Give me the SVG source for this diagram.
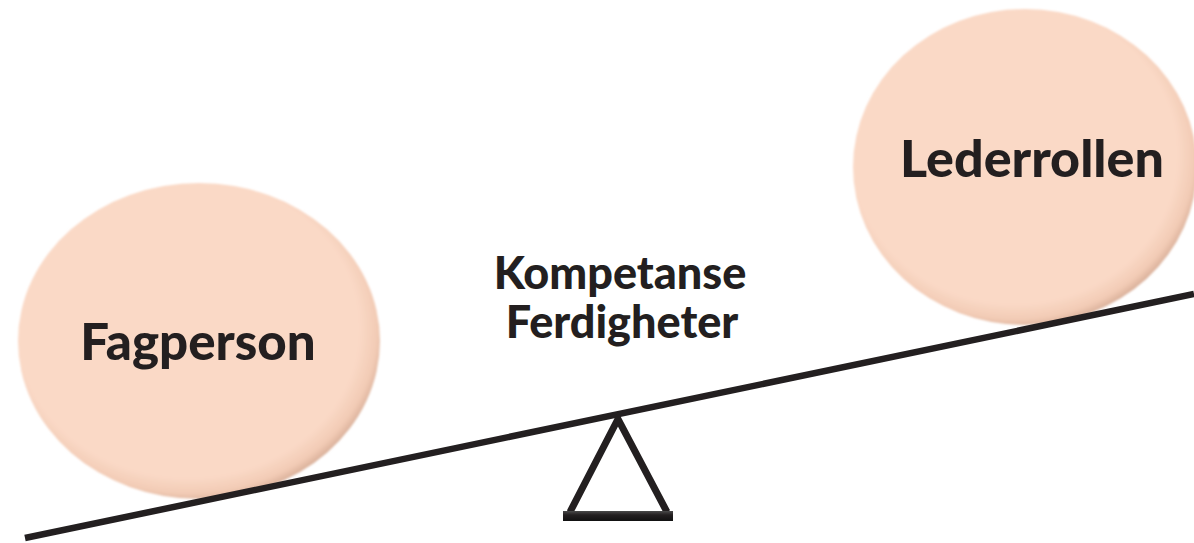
<svg xmlns="http://www.w3.org/2000/svg" width="1194" height="543" viewBox="0 0 1194 543">
<style>
.ball{fill:url(#peach);filter:url(#soft)}
.lbl{font-family:Lato,"Open Sans","Liberation Sans",sans-serif;font-weight:900;fill:#231f20;text-anchor:middle}
.beam{stroke:#231f20;stroke-linecap:butt;fill:none}
</style>
<defs>
<radialGradient id="peach" cx="0.47" cy="0.46" r="0.55">
<stop offset="0.86" stop-color="#fad9c6"/>
<stop offset="0.95" stop-color="#f2cbb5"/>
<stop offset="1" stop-color="#d9b09a"/>
</radialGradient>
<filter id="soft" x="-10%" y="-10%" width="120%" height="120%">
<feGaussianBlur stdDeviation="1.2"/>
</filter>
<linearGradient id="bar" x1="0" y1="0" x2="0" y2="1">
<stop offset="0" stop-color="#4a4a4a"/>
<stop offset="0.4" stop-color="#231f20"/>
<stop offset="1" stop-color="#111"/>
</linearGradient>
</defs>
<g id="fagperson">
<ellipse class="ball" cx="199" cy="341" rx="181" ry="158"/>
<text class="lbl" x="198" y="360" font-size="51">Fagperson</text>
</g>
<g id="lederrollen">
<ellipse class="ball" cx="1025" cy="167" rx="172" ry="158"/>
<text class="lbl" x="1032" y="177" font-size="52">Lederrollen</text>
</g>
<g id="kompetanse">
<text class="lbl" x="620" y="289" font-size="45">Kompetanse</text>
<text class="lbl" x="622" y="338" font-size="45">Ferdigheter</text>
</g>
<g id="connectors">
<line class="beam" x1="25" y1="538" x2="1194" y2="294" stroke-width="6.5"/>
<path class="beam" d="M570,512 L618,419 L667,512" stroke-width="7" stroke-linejoin="miter"/>
<rect x="563" y="511" width="110" height="10" fill="url(#bar)"/>
</g>
</svg>
